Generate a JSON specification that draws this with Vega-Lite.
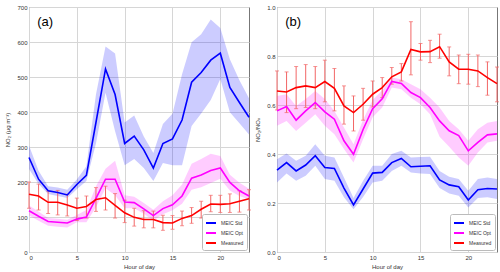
{
  "$schema": "https://vega.github.io/schema/vega-lite/v6.json",
  "padding": {"left": 4, "top": 3, "right": 0, "bottom": 0},
  "spacing": 28,
  "bounds": "flush",
  "config": {
    "font": "Liberation Sans",
    "view": {"stroke": "#777", "strokeWidth": 1},
    "axis": {
      "labelFont": "Liberation Sans", "labelFontSize": 6, "labelColor": "#333", "labelOverlap": false,
      "titleFont": "Liberation Sans", "titleFontSize": 6, "titleFontWeight": "normal", "titleColor": "#333",
      "tickSize": 0, "labelPadding": 2, "gridColor": "#d6d6d6", "domain": false
    },
    "axisX": {"titlePadding": 3},
    "axisY": {"titlePadding": 6},
    "legend": {
      "orient": "bottom-right", "offset": 2, "symbolType": "stroke", "symbolStrokeWidth": 2,
      "symbolSize": 100, "labelFontSize": 5, "labelFont": "Liberation Sans", "labelColor": "#333",
      "strokeColor": "#bbb", "fillColor": "white", "padding": 3, "rowPadding": 0, "cornerRadius": 2,
      "labelOffset": 4
    }
  },
  "resolve": {"scale": {"color": "independent"}, "legend": {"color": "independent"}},
  "datasets": {
    "a": [
      {"s":"MEIC Std","h":0,"v":270,"lo":237,"hi":304},{"s":"MEIC Std","h":1,"v":208,"lo":194,"hi":232},{"s":"MEIC Std","h":2,"v":175,"lo":166,"hi":188},{"s":"MEIC Std","h":3,"v":170,"lo":160,"hi":184},{"s":"MEIC Std","h":4,"v":163,"lo":154,"hi":178},{"s":"MEIC Std","h":5,"v":193,"lo":179,"hi":207},{"s":"MEIC Std","h":6,"v":219,"lo":203,"hi":245},{"s":"MEIC Std","h":7,"v":370,"lo":310,"hi":450},{"s":"MEIC Std","h":8,"v":523,"lo":455,"hi":587},{"s":"MEIC Std","h":9,"v":450,"lo":345,"hi":567},{"s":"MEIC Std","h":10,"v":310,"lo":248,"hi":370},{"s":"MEIC Std","h":11,"v":331,"lo":266,"hi":390},{"s":"MEIC Std","h":12,"v":292,"lo":240,"hi":330},{"s":"MEIC Std","h":13,"v":240,"lo":203,"hi":283},{"s":"MEIC Std","h":14,"v":310,"lo":254,"hi":366},{"s":"MEIC Std","h":15,"v":323,"lo":248,"hi":395},{"s":"MEIC Std","h":16,"v":377,"lo":248,"hi":508},{"s":"MEIC Std","h":17,"v":485,"lo":360,"hi":599},{"s":"MEIC Std","h":18,"v":513,"lo":396,"hi":622},{"s":"MEIC Std","h":19,"v":548,"lo":434,"hi":664},{"s":"MEIC Std","h":20,"v":568,"lo":494,"hi":640},{"s":"MEIC Std","h":21,"v":470,"lo":399,"hi":551},{"s":"MEIC Std","h":22,"v":427,"lo":368,"hi":491},{"s":"MEIC Std","h":23,"v":385,"lo":336,"hi":439},
      {"s":"MEIC Opt","h":0,"v":118,"lo":104,"hi":133},{"s":"MEIC Opt","h":1,"v":102,"lo":89,"hi":116},{"s":"MEIC Opt","h":2,"v":87,"lo":75,"hi":97},{"s":"MEIC Opt","h":3,"v":85,"lo":72,"hi":95},{"s":"MEIC Opt","h":4,"v":83,"lo":70,"hi":92},{"s":"MEIC Opt","h":5,"v":94,"lo":85,"hi":106},{"s":"MEIC Opt","h":6,"v":100,"lo":85,"hi":120},{"s":"MEIC Opt","h":7,"v":153,"lo":128,"hi":188},{"s":"MEIC Opt","h":8,"v":208,"lo":182,"hi":238},{"s":"MEIC Opt","h":9,"v":208,"lo":162,"hi":261},{"s":"MEIC Opt","h":10,"v":143,"lo":125,"hi":162},{"s":"MEIC Opt","h":11,"v":141,"lo":125,"hi":158},{"s":"MEIC Opt","h":12,"v":123,"lo":109,"hi":140},{"s":"MEIC Opt","h":13,"v":104,"lo":90,"hi":121},{"s":"MEIC Opt","h":14,"v":124,"lo":108,"hi":145},{"s":"MEIC Opt","h":15,"v":135,"lo":119,"hi":162},{"s":"MEIC Opt","h":16,"v":160,"lo":138,"hi":193},{"s":"MEIC Opt","h":17,"v":211,"lo":178,"hi":252},{"s":"MEIC Opt","h":18,"v":220,"lo":185,"hi":266},{"s":"MEIC Opt","h":19,"v":233,"lo":197,"hi":281},{"s":"MEIC Opt","h":20,"v":240,"lo":209,"hi":274},{"s":"MEIC Opt","h":21,"v":199,"lo":176,"hi":221},{"s":"MEIC Opt","h":22,"v":175,"lo":160,"hi":198},{"s":"MEIC Opt","h":23,"v":160,"lo":150,"hi":181},
      {"s":"Measured","h":0,"v":165,"lo":125,"hi":200},{"s":"Measured","h":1,"v":160,"lo":120,"hi":194},{"s":"Measured","h":2,"v":142,"lo":110,"hi":174},{"s":"Measured","h":3,"v":142,"lo":106,"hi":176},{"s":"Measured","h":4,"v":134,"lo":103,"hi":165},{"s":"Measured","h":5,"v":125,"lo":90,"hi":154},{"s":"Measured","h":6,"v":130,"lo":97,"hi":160},{"s":"Measured","h":7,"v":150,"lo":116,"hi":184},{"s":"Measured","h":8,"v":155,"lo":120,"hi":188},{"s":"Measured","h":9,"v":133,"lo":97,"hi":167},{"s":"Measured","h":10,"v":112,"lo":84,"hi":148},{"s":"Measured","h":11,"v":99,"lo":74,"hi":125},{"s":"Measured","h":12,"v":93,"lo":69,"hi":118},{"s":"Measured","h":13,"v":93,"lo":69,"hi":117},{"s":"Measured","h":14,"v":84,"lo":62,"hi":105},{"s":"Measured","h":15,"v":83,"lo":65,"hi":104},{"s":"Measured","h":16,"v":96,"lo":75,"hi":117},{"s":"Measured","h":17,"v":104,"lo":82,"hi":127},{"s":"Measured","h":18,"v":122,"lo":97,"hi":145},{"s":"Measured","h":19,"v":137,"lo":115,"hi":162},{"s":"Measured","h":20,"v":136,"lo":113,"hi":162},{"s":"Measured","h":21,"v":138,"lo":113,"hi":166},{"s":"Measured","h":22,"v":145,"lo":114,"hi":175},{"s":"Measured","h":23,"v":152,"lo":120,"hi":178}
    ],
    "b": [
      {"s":"MEIC Std","h":0,"v":0.334,"lo":0.284,"hi":0.379},{"s":"MEIC Std","h":1,"v":0.365,"lo":0.32,"hi":0.402},{"s":"MEIC Std","h":2,"v":0.331,"lo":0.291,"hi":0.372},{"s":"MEIC Std","h":3,"v":0.355,"lo":0.311,"hi":0.393},{"s":"MEIC Std","h":4,"v":0.393,"lo":0.352,"hi":0.44},{"s":"MEIC Std","h":5,"v":0.345,"lo":0.298,"hi":0.393},{"s":"MEIC Std","h":6,"v":0.341,"lo":0.291,"hi":0.386},{"s":"MEIC Std","h":7,"v":0.261,"lo":0.223,"hi":0.304},{"s":"MEIC Std","h":8,"v":0.192,"lo":0.175,"hi":0.22},{"s":"MEIC Std","h":9,"v":0.257,"lo":0.225,"hi":0.291},{"s":"MEIC Std","h":10,"v":0.322,"lo":0.284,"hi":0.352},{"s":"MEIC Std","h":11,"v":0.325,"lo":0.291,"hi":0.352},{"s":"MEIC Std","h":12,"v":0.365,"lo":0.331,"hi":0.4},{"s":"MEIC Std","h":13,"v":0.382,"lo":0.352,"hi":0.413},{"s":"MEIC Std","h":14,"v":0.348,"lo":0.324,"hi":0.386},{"s":"MEIC Std","h":15,"v":0.35,"lo":0.32,"hi":0.388},{"s":"MEIC Std","h":16,"v":0.352,"lo":0.318,"hi":0.389},{"s":"MEIC Std","h":17,"v":0.294,"lo":0.261,"hi":0.331},{"s":"MEIC Std","h":18,"v":0.274,"lo":0.239,"hi":0.307},{"s":"MEIC Std","h":19,"v":0.266,"lo":0.23,"hi":0.298},{"s":"MEIC Std","h":20,"v":0.212,"lo":0.182,"hi":0.25},{"s":"MEIC Std","h":21,"v":0.254,"lo":0.22,"hi":0.298},{"s":"MEIC Std","h":22,"v":0.259,"lo":0.223,"hi":0.304},{"s":"MEIC Std","h":23,"v":0.257,"lo":0.216,"hi":0.298},
      {"s":"MEIC Opt","h":0,"v":0.576,"lo":0.515,"hi":0.637},{"s":"MEIC Opt","h":1,"v":0.594,"lo":0.535,"hi":0.644},{"s":"MEIC Opt","h":2,"v":0.538,"lo":0.494,"hi":0.596},{"s":"MEIC Opt","h":3,"v":0.576,"lo":0.528,"hi":0.624},{"s":"MEIC Opt","h":4,"v":0.61,"lo":0.562,"hi":0.657},{"s":"MEIC Opt","h":5,"v":0.572,"lo":0.515,"hi":0.624},{"s":"MEIC Opt","h":6,"v":0.542,"lo":0.481,"hi":0.576},{"s":"MEIC Opt","h":7,"v":0.454,"lo":0.42,"hi":0.508},{"s":"MEIC Opt","h":8,"v":0.399,"lo":0.365,"hi":0.44},{"s":"MEIC Opt","h":9,"v":0.5,"lo":0.46,"hi":0.54},{"s":"MEIC Opt","h":10,"v":0.585,"lo":0.55,"hi":0.62},{"s":"MEIC Opt","h":11,"v":0.625,"lo":0.59,"hi":0.66},{"s":"MEIC Opt","h":12,"v":0.696,"lo":0.671,"hi":0.712},{"s":"MEIC Opt","h":13,"v":0.688,"lo":0.664,"hi":0.705},{"s":"MEIC Opt","h":14,"v":0.651,"lo":0.63,"hi":0.685},{"s":"MEIC Opt","h":15,"v":0.63,"lo":0.603,"hi":0.664},{"s":"MEIC Opt","h":16,"v":0.59,"lo":0.562,"hi":0.63},{"s":"MEIC Opt","h":17,"v":0.535,"lo":0.47,"hi":0.59},{"s":"MEIC Opt","h":18,"v":0.495,"lo":0.43,"hi":0.535},{"s":"MEIC Opt","h":19,"v":0.475,"lo":0.386,"hi":0.501},{"s":"MEIC Opt","h":20,"v":0.413,"lo":0.352,"hi":0.454},{"s":"MEIC Opt","h":21,"v":0.447,"lo":0.406,"hi":0.501},{"s":"MEIC Opt","h":22,"v":0.478,"lo":0.447,"hi":0.528},{"s":"MEIC Opt","h":23,"v":0.482,"lo":0.454,"hi":0.535},
      {"s":"Measured","h":0,"v":0.657,"lo":0.58,"hi":0.739},{"s":"Measured","h":1,"v":0.653,"lo":0.569,"hi":0.735},{"s":"Measured","h":2,"v":0.671,"lo":0.585,"hi":0.757},{"s":"Measured","h":3,"v":0.678,"lo":0.59,"hi":0.765},{"s":"Measured","h":4,"v":0.671,"lo":0.585,"hi":0.757},{"s":"Measured","h":5,"v":0.696,"lo":0.613,"hi":0.783},{"s":"Measured","h":6,"v":0.668,"lo":0.576,"hi":0.749},{"s":"Measured","h":7,"v":0.596,"lo":0.522,"hi":0.678},{"s":"Measured","h":8,"v":0.569,"lo":0.494,"hi":0.637},{"s":"Measured","h":9,"v":0.603,"lo":0.538,"hi":0.668},{"s":"Measured","h":10,"v":0.644,"lo":0.592,"hi":0.698},{"s":"Measured","h":11,"v":0.671,"lo":0.63,"hi":0.712},{"s":"Measured","h":12,"v":0.715,"lo":0.685,"hi":0.753},{"s":"Measured","h":13,"v":0.735,"lo":0.698,"hi":0.769},{"s":"Measured","h":14,"v":0.827,"lo":0.723,"hi":0.94},{"s":"Measured","h":15,"v":0.817,"lo":0.783,"hi":0.851},{"s":"Measured","h":16,"v":0.818,"lo":0.773,"hi":0.864},{"s":"Measured","h":17,"v":0.838,"lo":0.791,"hi":0.889},{"s":"Measured","h":18,"v":0.776,"lo":0.719,"hi":0.837},{"s":"Measured","h":19,"v":0.746,"lo":0.687,"hi":0.804},{"s":"Measured","h":20,"v":0.746,"lo":0.685,"hi":0.807},{"s":"Measured","h":21,"v":0.739,"lo":0.675,"hi":0.804},{"s":"Measured","h":22,"v":0.712,"lo":0.64,"hi":0.776},{"s":"Measured","h":23,"v":0.687,"lo":0.613,"hi":0.755}
    ]
  },
  "hconcat": [
    {
      "width": 220, "height": 245,
      "data": {"name": "a"},
      "layer": [
        {
          "transform": [{"filter": "datum.s === 'MEIC Std'"}],
          "mark": {"type": "area", "opacity": 0.2, "color": "#0000ff"},
          "encoding": {
            "x": {"field": "h", "type": "quantitative", "scale": {"domain": [0, 23], "nice": false}, "axis": {"values": [0, 5, 10, 15, 20], "title": "Hour of day", "labelOverlap": false}},
            "y": {"field": "lo", "type": "quantitative", "scale": {"domain": [0, 700], "nice": false}, "axis": {"values": [0, 100, 200, 300, 400, 500, 600, 700], "title": "NO₂ (μg m⁻³)", "labelOverlap": false}},
            "y2": {"field": "hi"}
          }
        },
        {
          "transform": [{"filter": "datum.s === 'MEIC Opt'"}],
          "mark": {"type": "area", "opacity": 0.2, "color": "#ff00ff"},
          "encoding": {
            "x": {"field": "h", "type": "quantitative", "scale": {"domain": [0, 23], "nice": false}, "axis": {"values": [0, 5, 10, 15, 20], "title": "Hour of day", "labelOverlap": false}},
            "y": {"field": "lo", "type": "quantitative", "scale": {"domain": [0, 700], "nice": false}, "axis": {"values": [0, 100, 200, 300, 400, 500, 600, 700], "title": "NO₂ (μg m⁻³)", "labelOverlap": false}},
            "y2": {"field": "hi"}
          }
        },
        {
          "transform": [{"filter": "datum.s === 'Measured'"}],
          "mark": {"type": "errorbar", "ticks": {"size": 4}, "color": "#f26666", "thickness": 1},
          "encoding": {
            "x": {"field": "h", "type": "quantitative", "scale": {"domain": [0, 23], "nice": false}, "axis": {"values": [0, 5, 10, 15, 20], "title": "Hour of day", "labelOverlap": false}},
            "y": {"field": "lo", "type": "quantitative", "scale": {"domain": [0, 700], "nice": false}, "axis": {"values": [0, 100, 200, 300, 400, 500, 600, 700], "title": "NO₂ (μg m⁻³)", "labelOverlap": false}},
            "y2": {"field": "hi"}
          }
        },
        {
          "mark": {"type": "line", "strokeWidth": 1.6},
          "encoding": {
            "x": {"field": "h", "type": "quantitative", "scale": {"domain": [0, 23], "nice": false}, "axis": {"values": [0, 5, 10, 15, 20], "title": "Hour of day", "labelOverlap": false}},
            "y": {"field": "v", "type": "quantitative", "scale": {"domain": [0, 700], "nice": false}, "axis": {"values": [0, 100, 200, 300, 400, 500, 600, 700], "title": "NO₂ (μg m⁻³)", "labelOverlap": false}},
            "color": {"field": "s", "type": "nominal", "scale": {"domain": ["MEIC Std", "MEIC Opt", "Measured"], "range": ["#0000ff", "#ff00ff", "#ff0000"]}, "legend": {"title": null}}
          }
        },
        {
          "data": {"values": [{"t": "(a)", "px": 1.68, "py": 658}]},
          "mark": {"type": "text", "fontSize": 13, "font": "Liberation Sans", "color": "#000", "baseline": "middle", "align": "center"},
          "encoding": {
            "x": {"field": "px", "type": "quantitative", "scale": {"domain": [0, 23], "nice": false}, "axis": {"values": [0, 5, 10, 15, 20], "title": "Hour of day", "labelOverlap": false}},
            "y": {"field": "py", "type": "quantitative", "scale": {"domain": [0, 700], "nice": false}, "axis": {"values": [0, 100, 200, 300, 400, 500, 600, 700], "title": "NO₂ (μg m⁻³)", "labelOverlap": false}},
            "text": {"field": "t"}
          }
        }
      ]
    },
    {
      "width": 220, "height": 245,
      "data": {"name": "b"},
      "layer": [
        {
          "transform": [{"filter": "datum.s === 'MEIC Std'"}],
          "mark": {"type": "area", "opacity": 0.2, "color": "#0000ff"},
          "encoding": {
            "x": {"field": "h", "type": "quantitative", "scale": {"domain": [0, 23], "nice": false}, "axis": {"values": [0, 5, 10, 15, 20], "title": "Hour of day", "labelOverlap": false}},
            "y": {"field": "lo", "type": "quantitative", "scale": {"domain": [0, 1], "nice": false}, "axis": {"values": [0, 0.2, 0.4, 0.6, 0.8, 1.0], "format": ".1f", "title": "NO₂/NOₓ", "labelOverlap": false}},
            "y2": {"field": "hi"}
          }
        },
        {
          "transform": [{"filter": "datum.s === 'MEIC Opt'"}],
          "mark": {"type": "area", "opacity": 0.2, "color": "#ff00ff"},
          "encoding": {
            "x": {"field": "h", "type": "quantitative", "scale": {"domain": [0, 23], "nice": false}, "axis": {"values": [0, 5, 10, 15, 20], "title": "Hour of day", "labelOverlap": false}},
            "y": {"field": "lo", "type": "quantitative", "scale": {"domain": [0, 1], "nice": false}, "axis": {"values": [0, 0.2, 0.4, 0.6, 0.8, 1.0], "format": ".1f", "title": "NO₂/NOₓ", "labelOverlap": false}},
            "y2": {"field": "hi"}
          }
        },
        {
          "transform": [{"filter": "datum.s === 'Measured'"}],
          "mark": {"type": "errorbar", "ticks": {"size": 4}, "color": "#f26666", "thickness": 1},
          "encoding": {
            "x": {"field": "h", "type": "quantitative", "scale": {"domain": [0, 23], "nice": false}, "axis": {"values": [0, 5, 10, 15, 20], "title": "Hour of day", "labelOverlap": false}},
            "y": {"field": "lo", "type": "quantitative", "scale": {"domain": [0, 1], "nice": false}, "axis": {"values": [0, 0.2, 0.4, 0.6, 0.8, 1.0], "format": ".1f", "title": "NO₂/NOₓ", "labelOverlap": false}},
            "y2": {"field": "hi"}
          }
        },
        {
          "mark": {"type": "line", "strokeWidth": 1.6},
          "encoding": {
            "x": {"field": "h", "type": "quantitative", "scale": {"domain": [0, 23], "nice": false}, "axis": {"values": [0, 5, 10, 15, 20], "title": "Hour of day", "labelOverlap": false}},
            "y": {"field": "v", "type": "quantitative", "scale": {"domain": [0, 1], "nice": false}, "axis": {"values": [0, 0.2, 0.4, 0.6, 0.8, 1.0], "format": ".1f", "title": "NO₂/NOₓ", "labelOverlap": false}},
            "color": {"field": "s", "type": "nominal", "scale": {"domain": ["MEIC Std", "MEIC Opt", "Measured"], "range": ["#0000ff", "#ff00ff", "#ff0000"]}, "legend": {"title": null}}
          }
        },
        {
          "data": {"values": [{"t": "(b)", "px": 1.68, "py": 0.939}]},
          "mark": {"type": "text", "fontSize": 13, "font": "Liberation Sans", "color": "#000", "baseline": "middle", "align": "center"},
          "encoding": {
            "x": {"field": "px", "type": "quantitative", "scale": {"domain": [0, 23], "nice": false}, "axis": {"values": [0, 5, 10, 15, 20], "title": "Hour of day", "labelOverlap": false}},
            "y": {"field": "py", "type": "quantitative", "scale": {"domain": [0, 1], "nice": false}, "axis": {"values": [0, 0.2, 0.4, 0.6, 0.8, 1.0], "format": ".1f", "title": "NO₂/NOₓ", "labelOverlap": false}},
            "text": {"field": "t"}
          }
        }
      ]
    }
  ]
}
